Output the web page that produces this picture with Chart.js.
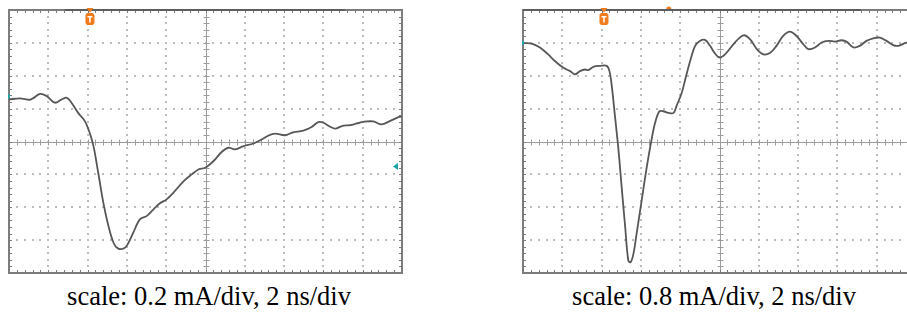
<!DOCTYPE html>
<html>
<head>
<meta charset="utf-8">
<title>Current pulses</title>
<script src="https://cdn.jsdelivr.net/npm/chart.js@4.4.1/dist/chart.umd.min.js"></script>
<style>
  html, body { margin: 0; padding: 0; background: #fff; overflow: hidden; width: 907px; height: 320px; }
  #wrap { position: relative; width: 907px; height: 320px; overflow: hidden; }
  canvas { position: absolute; top: 0; }
  #scopeA { left: 0; }
  #scopeB { left: 510px; }
  .cap {
    position: absolute; top: 283px; line-height: 26px;
    font-family: "Liberation Serif", "Times New Roman", serif; font-size: 26.5px;
    color: #000; white-space: nowrap; transform: translateX(-50%);
  }
</style>
</head>
<body>
<div id="wrap">
  <canvas id="scopeA" width="420" height="280"></canvas>
  <canvas id="scopeB" width="420" height="280"></canvas>
  <div class="cap" id="capA" style="left:209px"></div>
  <div class="cap" id="capB" style="left:714px"></div>
</div>
<script>
// Trace samples, in screen divisions (x: 0..10, y: -4..4 around the centre line)
const leftTime = [0, 0.28, 0.53, 0.62, 0.79, 0.96, 1.17, 1.34, 1.47, 1.59,
  1.76, 1.93, 2.04, 2.15, 2.27, 2.40, 2.53, 2.66, 2.78, 2.95,
  3.04, 3.16, 3.33, 3.50, 3.67, 3.84, 4.01, 4.18, 4.44, 4.65,
  4.82, 4.99, 5.20, 5.41, 5.58, 5.75, 5.97, 6.22, 6.43, 6.60,
  6.77, 7.02, 7.23, 7.49, 7.70, 7.87, 8.00, 8.17, 8.30, 8.47,
  8.68, 8.85, 9.02, 9.27, 9.48, 9.69, 9.91, 10];
const leftSignal = [1.28, 1.31, 1.27, 1.32, 1.45, 1.38, 1.18, 1.28, 1.33, 1.18,
  0.87, 0.62, 0.31, -0.14, -0.95, -1.86, -2.57, -3.08, -3.26, -3.23,
  -3.08, -2.78, -2.37, -2.27, -2.07, -1.88, -1.76, -1.56, -1.21, -1.00,
  -0.85, -0.80, -0.60, -0.32, -0.19, -0.24, -0.14, -0.06, 0.06, 0.18,
  0.24, 0.19, 0.28, 0.33, 0.44, 0.59, 0.57, 0.45, 0.39, 0.47,
  0.50, 0.55, 0.60, 0.61, 0.52, 0.62, 0.74, 0.76];

const rightTime = [0, 0.22, 0.43, 0.64, 0.81, 1.03, 1.20, 1.32, 1.45, 1.58,
  1.66, 1.79, 1.96, 2.13, 2.20, 2.26, 2.34, 2.43, 2.51, 2.60,
  2.68, 2.74, 2.81, 2.89, 3.02, 3.15, 3.27, 3.36, 3.47, 3.57,
  3.70, 3.83, 3.91, 4.04, 4.16, 4.29, 4.38, 4.50, 4.63, 4.76,
  4.89, 5.01, 5.18, 5.39, 5.61, 5.78, 5.95, 6.12, 6.29, 6.45,
  6.62, 6.79, 6.96, 7.13, 7.26, 7.43, 7.60, 7.77, 7.94, 8.11,
  8.24, 8.41, 8.57, 8.74, 8.91, 9.08, 9.25, 9.42, 9.55, 9.76, 10];
const rightSignal = [2.99, 2.98, 2.86, 2.65, 2.45, 2.24, 2.14, 2.04, 2.14, 2.19,
  2.17, 2.27, 2.30, 2.30, 2.14, 1.68, 0.77, -0.26, -1.38, -2.60,
  -3.62, -3.67, -3.42, -2.81, -1.79, -0.77, 0.05, 0.56, 0.92, 0.92,
  0.87, 0.87, 1.09, 1.48, 2.04, 2.60, 2.91, 3.06, 3.09, 2.91,
  2.67, 2.55, 2.70, 3.01, 3.23, 3.11, 2.81, 2.65, 2.70, 2.91,
  3.21, 3.34, 3.21, 2.96, 2.81, 2.86, 3.01, 3.06, 3.04, 3.08,
  3.03, 2.86, 2.91, 3.06, 3.14, 3.16, 3.06, 2.93, 2.91, 3.01, 3.05];

const captions = ["scale: 0.2 mA/div, 2 ns/div", "scale: 0.8 mA/div, 2 ns/div"];

// Scope indicators, also in divisions
const triggerPos = [2.06, 2.06];          // trigger "T" flag along the top
const recordBar = [[1.42, 8.55], [0, 8.6]]; // darker span on the top edge
const groundLevel = [1.37, 3.0];         // channel marker on the left edge
const rightMarkerLevel = [-0.76, 1.22];  // marker on the right edge
const extraTopMark = [null, 3.71];       // small orange dot above the frame

const GRID = '#bcbcbc', AXIS = '#9c9c9c', FRAME = '#7c7c7c';
const ORANGE = '#f07b1c', TEAL = '#1aa3a8';

const scopePlugin = {
  id: 'scope',
  beforeDatasetsDraw(chart, args, o) {
    const { ctx, chartArea: a, scales: { x, y } } = chart;
    ctx.save();
    // dotted division lines, one dot per fifth of a division
    ctx.fillStyle = GRID;
    for (let i = 1; i < 10; i++) {
      if (i === 5) continue;
      const px = Math.round(x.getPixelForValue(i));
      for (let j = 1; j < 40; j++) {
        const py = Math.round(y.getPixelForValue(-4 + j * 0.2));
        ctx.fillRect(px - 1, py - 1, 2, 2);
      }
    }
    for (let i = -3; i <= 3; i++) {
      if (i === 0) continue;
      const py = Math.round(y.getPixelForValue(i));
      for (let j = 1; j < 50; j++) {
        const px = Math.round(x.getPixelForValue(j * 0.2));
        ctx.fillRect(px - 1, py - 1, 2, 2);
      }
    }
    // centre cross with minor ticks
    const cx = Math.round(x.getPixelForValue(5)) + 0.5;
    const cy = Math.round(y.getPixelForValue(0)) + 0.5;
    ctx.strokeStyle = AXIS; ctx.lineWidth = 1;
    ctx.beginPath();
    ctx.moveTo(a.left, cy); ctx.lineTo(a.right, cy);
    ctx.moveTo(cx, a.top); ctx.lineTo(cx, a.bottom);
    for (let j = 1; j < 50; j++) {
      const px = Math.round(x.getPixelForValue(j * 0.2)) + 0.5;
      ctx.moveTo(px, cy - 3); ctx.lineTo(px, cy + 3);
    }
    for (let j = 1; j < 40; j++) {
      const py = Math.round(y.getPixelForValue(-4 + j * 0.2)) + 0.5;
      ctx.moveTo(cx - 3, py); ctx.lineTo(cx + 3, py);
    }
    ctx.stroke();
    // frame with inward ticks
    ctx.strokeStyle = FRAME; ctx.lineWidth = 2;
    ctx.strokeRect(a.left, a.top, a.right - a.left, a.bottom - a.top);
    ctx.lineWidth = 1;
    ctx.beginPath();
    for (let j = 1; j < 50; j++) {
      const px = Math.round(x.getPixelForValue(j * 0.2)) + 0.5;
      ctx.moveTo(px, a.top); ctx.lineTo(px, a.top + 3);
      ctx.moveTo(px, a.bottom); ctx.lineTo(px, a.bottom - 3);
    }
    for (let j = 1; j < 40; j++) {
      const py = Math.round(y.getPixelForValue(-4 + j * 0.2)) + 0.5;
      ctx.moveTo(a.left, py); ctx.lineTo(a.left + 3, py);
      ctx.moveTo(a.right, py); ctx.lineTo(a.right - 3, py);
    }
    ctx.stroke();
    // record span on top edge
    ctx.strokeStyle = '#5e5e5e'; ctx.lineWidth = 2;
    ctx.beginPath();
    ctx.moveTo(x.getPixelForValue(o.bar[0]), a.top);
    ctx.lineTo(x.getPixelForValue(o.bar[1]), a.top);
    ctx.stroke();
    ctx.restore();
  },
  afterDatasetsDraw(chart, args, o) {
    const { ctx, chartArea: a, scales: { x, y } } = chart;
    ctx.save();
    // trigger flag
    const tx = x.getPixelForValue(o.trigger);
    const t0 = a.top;
    ctx.fillStyle = ORANGE;
    ctx.beginPath();
    ctx.moveTo(tx - 3.5, t0 - 2); ctx.lineTo(tx + 3.5, t0 - 2); ctx.lineTo(tx, t0 + 2.5);
    ctx.closePath(); ctx.fill();
    ctx.beginPath();
    ctx.moveTo(tx - 3, t0 + 3); ctx.lineTo(tx + 3, t0 + 3);
    ctx.lineTo(tx + 4.5, t0 + 5); ctx.lineTo(tx + 4.5, t0 + 13);
    ctx.lineTo(tx + 3, t0 + 15); ctx.lineTo(tx - 3, t0 + 15);
    ctx.lineTo(tx - 4.5, t0 + 13); ctx.lineTo(tx - 4.5, t0 + 5);
    ctx.closePath(); ctx.fill();
    ctx.fillStyle = '#fff';
    ctx.fillRect(tx - 2.5, t0 + 6, 5, 1.5);
    ctx.fillRect(tx - 0.75, t0 + 6, 1.5, 6.5);
    // extra orange mark above the frame
    if (o.topMark !== null) {
      const mx = x.getPixelForValue(o.topMark);
      ctx.fillStyle = ORANGE;
      ctx.beginPath();
      ctx.arc(mx, a.top - 1, 2.5, Math.PI, 0);
      ctx.fill();
    }
    // channel markers
    ctx.fillStyle = TEAL;
    const gy = y.getPixelForValue(o.ground);
    ctx.fillRect(a.left - 1, gy - 2, 2, 4);
    const ry = y.getPixelForValue(o.rightLevel);
    ctx.beginPath();
    ctx.moveTo(a.right - 9, ry); ctx.lineTo(a.right - 4, ry - 3.5); ctx.lineTo(a.right - 4, ry + 3.5);
    ctx.closePath(); ctx.fill();
    ctx.restore();
  }
};

function makeScope(canvasId, times, values, idx, pad) {
  const points = times.map((t, i) => ({ x: t, y: values[i] }));
  return new Chart(document.getElementById(canvasId), {
    type: 'line',
    data: {
      datasets: [{
        data: points,
        borderColor: '#575757',
        borderWidth: 1.8,
        pointRadius: 0,
        tension: 0.35,
        fill: false
      }]
    },
    options: {
      responsive: false,
      animation: false,
      devicePixelRatio: 1,
      events: [],
      layout: { padding: pad },
      plugins: {
        legend: { display: false },
        tooltip: { enabled: false },
        scope: {
          trigger: triggerPos[idx],
          bar: recordBar[idx],
          ground: groundLevel[idx],
          rightLevel: rightMarkerLevel[idx],
          topMark: extraTopMark[idx]
        }
      },
      scales: {
        x: { type: 'linear', min: 0, max: 10, display: false },
        y: { type: 'linear', min: -4, max: 4, display: false }
      }
    },
    plugins: [scopePlugin]
  });
}

makeScope('scopeA', leftTime, leftSignal, 0, { left: 9, top: 10, right: 18, bottom: 7 });
makeScope('scopeB', rightTime, rightSignal, 1, { left: 13, top: 10, right: 14, bottom: 7 });

document.getElementById('capA').textContent = captions[0];
document.getElementById('capB').textContent = captions[1];
</script>
</body>
</html>
